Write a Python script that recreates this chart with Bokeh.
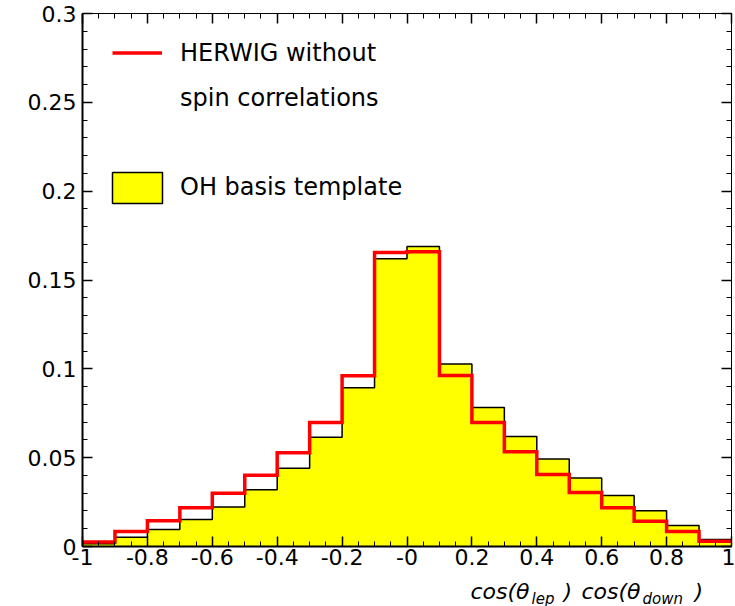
import numpy as np
from bokeh.plotting import figure
from bokeh.layouts import column
from bokeh.models import (Range1d, FixedTicker, CustomJSTickFormatter, LinearAxis,
                          Legend, LegendItem, BoxAnnotation)
from bokeh.core.properties import value
from bokeh.embed import file_html
from bokeh.resources import INLINE

# ---------------- data ----------------
bin_edges = [-1.0, -0.9, -0.8, -0.7, -0.6, -0.5, -0.4, -0.3, -0.2, -0.1, 0.0,
             0.1, 0.2, 0.3, 0.4, 0.5, 0.6, 0.7, 0.8, 0.9, 1.0]
oh_template = [0.0016, 0.0052, 0.0096, 0.0152, 0.0223, 0.0319, 0.0441, 0.0615,
               0.0893, 0.1619, 0.1689, 0.1027, 0.0782, 0.0619, 0.0492, 0.0385,
               0.0287, 0.0201, 0.0118, 0.0040]
herwig_nospin = [0.0026, 0.0084, 0.0145, 0.0218, 0.0300, 0.0401, 0.0527, 0.0698,
                 0.0961, 0.1655, 0.1659, 0.0962, 0.0698, 0.0533, 0.0405, 0.0304,
                 0.0218, 0.0142, 0.0084, 0.0030]
x_ticks = [-1.0, -0.8, -0.6, -0.4, -0.2, 0.0, 0.2, 0.4, 0.6, 0.8, 1.0]
y_ticks = [0.0, 0.05, 0.1, 0.15, 0.2, 0.25, 0.3]
legend_labels = ["HERWIG without", "spin correlations", "OH basis template"]
xlabel_main = ["cos(\u03b8", ")", "cos(\u03b8", ")"]
xlabel_subs = ["lep", "down"]

FONT = "DejaVu Sans"

p = figure(frame_width=649, frame_height=533, output_backend="svg",
           toolbar_location=None, x_range=Range1d(-1, 1), y_range=Range1d(0, 0.3),
           min_border_left=82, min_border_right=4, min_border_top=13,
           min_border_bottom=28)
p.background_fill_color = "white"
p.border_fill_color = "white"
p.outline_line_color = "black"
p.outline_line_width = 1
p.xgrid.visible = False
p.ygrid.visible = False

step_x = bin_edges[:-1] + [bin_edges[-1]]
oh_step_y = oh_template + [oh_template[-1]]
p.varea_step(x=step_x, y1=0, y2=oh_step_y, step_mode="after", fill_color="#ffff00")
p.step(x=step_x, y=oh_step_y, mode="after", line_color="black", line_width=1.5)
red = p.step(x=step_x, y=herwig_nospin + [herwig_nospin[-1]], mode="after",
             line_color="#ff0000", line_width=3.5, line_join="miter")

blank = p.line(x=[], y=[], line_alpha=0)

x_minor = list(np.round(np.arange(-1, 1.0001, 0.05), 3))
y_minor = list(np.round(np.arange(0, 0.30001, 0.01), 3))

xfmt = CustomJSTickFormatter(code="""
if (Math.abs(tick) < 1e-9) return "-0";
return (Math.round(tick*10)/10).toString();
""")
yfmt = CustomJSTickFormatter(code="""
if (Math.abs(tick) < 1e-9) return "0";
return parseFloat(tick.toFixed(2)).toString();
""")
nofmt = CustomJSTickFormatter(code='return "";')

def style_axis(ax, fmt, lw=2):
    ax.formatter = fmt
    ax.major_tick_in = 10
    ax.major_tick_out = 0
    ax.minor_tick_in = 5
    ax.minor_tick_out = 0
    ax.axis_line_width = lw
    ax.axis_line_color = "black"
    ax.major_tick_line_color = "black"
    ax.minor_tick_line_color = "black"
    ax.major_tick_line_width = 1.5
    ax.minor_tick_line_width = 1
    ax.major_label_text_font = FONT
    ax.major_label_text_font_size = "22px"
    ax.major_label_text_color = "black"
    ax.axis_label_standoff = 0

xa = p.xaxis[0]
xa.ticker = FixedTicker(ticks=x_ticks, minor_ticks=x_minor)
style_axis(xa, xfmt)
xa.major_label_standoff = 2

ya = p.yaxis[0]
ya.ticker = FixedTicker(ticks=y_ticks, minor_ticks=y_minor)
style_axis(ya, yfmt)
ya.major_label_standoff = 6

top_ax = LinearAxis(ticker=FixedTicker(ticks=x_ticks, minor_ticks=x_minor))
style_axis(top_ax, nofmt, lw=1)
top_ax.major_label_standoff = 0
p.add_layout(top_ax, "above")
right_ax = LinearAxis(ticker=FixedTicker(ticks=y_ticks, minor_ticks=y_minor))
style_axis(right_ax, nofmt, lw=1)
right_ax.major_label_standoff = 0
p.add_layout(right_ax, "right")

# legends
def px_x(px):
    return -1 + (px - 82) * 2.0 / 649

def px_y(py):
    return (546 - py) * 0.3 / 533

leg1 = Legend(items=[LegendItem(label=legend_labels[0], renderers=[red]),
                     LegendItem(label=legend_labels[1], renderers=[blank])],
              location=(30, 433), orientation="vertical",
              glyph_width=50, glyph_height=31, label_height=31, spacing=14,
              label_standoff=18, padding=0, margin=0,
              border_line_alpha=0, background_fill_alpha=0,
              label_text_font=FONT, label_text_font_size="24px",
              label_text_color="black")
leg2 = Legend(items=[LegendItem(label=legend_labels[2], renderers=[blank])],
              location=(24, 340), orientation="vertical",
              glyph_width=62, glyph_height=39, label_height=39, spacing=0,
              label_standoff=12, padding=0, margin=0,
              border_line_alpha=0, background_fill_alpha=0,
              label_text_font=FONT, label_text_font_size="24px",
              label_text_color="black")
p.add_layout(leg1)
p.add_layout(leg2)
p.add_layout(BoxAnnotation(left=px_x(112), right=px_x(162), top=px_y(172),
                           bottom=px_y(203), fill_color="#ffff00", fill_alpha=1,
                           line_color="black", line_width=1.5, line_alpha=1))

# x-axis title strip (with subscripts) below the main plot; frame aligned with p
p2 = figure(frame_width=649, height=32, output_backend="svg", toolbar_location=None,
            x_range=p.x_range, y_range=Range1d(32, 0),
            x_axis_type=None, y_axis_type=None,
            min_border_left=82, min_border_right=4, min_border_top=0,
            min_border_bottom=0)
p2.outline_line_color = None
p2.xgrid.visible = False
p2.ygrid.visible = False
p2.text(x=[px_x(v) for v in (470, 563, 581, 694)], y=[17, 17, 17, 17],
        text=xlabel_main, text_font=value(FONT), text_font_style="italic",
        text_font_size="22px", text_align="left", text_baseline="alphabetic",
        text_color="black")
p2.text(x=[px_x(v) for v in (531, 642)], y=[24, 24], text=xlabel_subs,
        text_font=value(FONT), text_font_style="italic", text_font_size="15px",
        text_align="left", text_baseline="alphabetic", text_color="black")

layout = column(p, p2, spacing=0)
open("out.html", "w").write(file_html(layout, INLINE))
